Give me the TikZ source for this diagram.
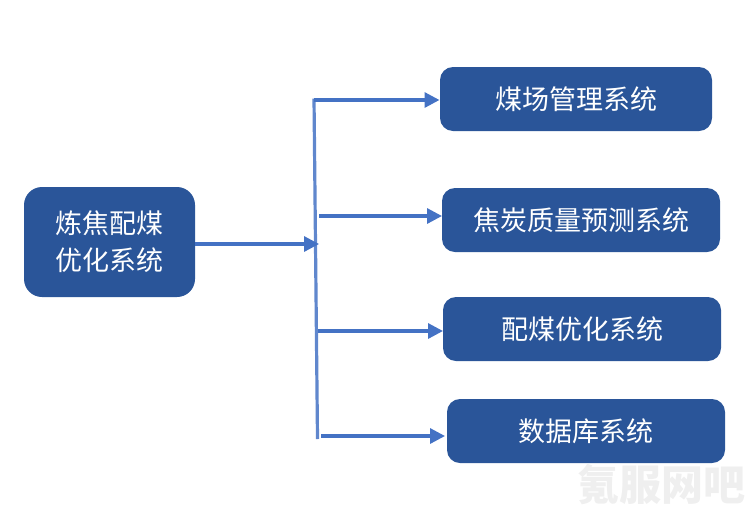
\documentclass[tikz,border=0pt]{standalone}
\usepackage{fontspec}
\usepackage{xcolor}
\usetikzlibrary{arrows.meta}
\newfontfamily\cjk{Noto Sans CJK SC}
\definecolor{boxblue}{HTML}{2A5599}
\definecolor{linkblue}{HTML}{4472C4}
\definecolor{markgray}{HTML}{EFEFEF}
\tikzset{
    sysbox/.style={fill=boxblue, text=white, rounded corners=13pt, inner sep=0pt,
        minimum height=64pt, font=\cjk\fontsize{27}{37}\selectfont, align=center},
    link/.style={draw=linkblue, line width=3.2pt},
    linkarrow/.style={link, -{Triangle[length=15pt, width=15pt]}},
}
\begin{document}
\begin{tikzpicture}[x=1pt, y=-1pt]
    \useasboundingbox (0, 0) rectangle (751, 517);

    % boxes
    \node[sysbox, minimum width=171pt, minimum height=110pt, rounded corners=18pt] (main) at (109.5, 242) {炼焦配煤\\优化系统};
    \node[sysbox, minimum width=272pt] (s1) at (576, 99) {煤场管理系统};
    \node[sysbox, minimum width=278pt] (s2) at (581, 220) {焦炭质量预测系统};
    \node[sysbox, minimum width=278pt] (s3) at (582, 329) {配煤优化系统};
    \node[sysbox, minimum width=278pt] (s4) at (586, 431) {数据库系统};

    % free ends on the bus
    \coordinate (top) at (314, 98.5);
    \coordinate (bot) at (317.5, 439);
    \coordinate (hub) at (319, 244);
    \coordinate (c1) at (314, 100);
    \coordinate (c2) at (319, 216);
    \coordinate (c3) at (318, 331);
    \coordinate (c4) at (321, 436);
    \coordinate (e1) at (439.5, 100);
    \coordinate (e2) at (442, 216);
    \coordinate (e3) at (443, 331);
    \coordinate (e4) at (445, 436);
    \coordinate (m1) at (195, 244);

    % connectors
    \draw[link, draw=linkblue!85!white] (top) -- (bot);
    \draw[linkarrow] (m1) -- (hub);
    \draw[linkarrow] (c1) -- (e1);
    \draw[linkarrow] (c2) -- (e2);
    \draw[linkarrow] (c3) -- (e3);
    \draw[linkarrow] (c4) -- (e4);

    % watermark
    \node[text=markgray, font=\cjk\bfseries\fontsize{42}{42}\selectfont, inner sep=0pt] (mark) at (661, 485) {氪服网吧};
\end{tikzpicture}
\end{document}
